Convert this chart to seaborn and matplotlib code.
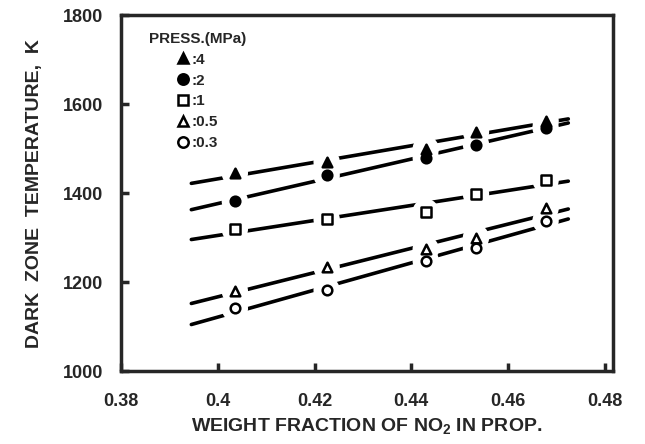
import numpy as np
import pandas as pd
import matplotlib
matplotlib.use('Agg')
import matplotlib.pyplot as plt
import seaborn as sns
from matplotlib.lines import Line2D

# weight fraction of NO2 in the propellant (same five mixes at every pressure)
no2_frac = [0.4035, 0.4225, 0.443, 0.4534, 0.4678]

# dark zone temperature, K, one list per pressure
temp_4 = [1445, 1470, 1499, 1538, 1562]
temp_2 = [1382, 1440, 1480, 1509, 1547]
temp_1 = [1319, 1341, 1358, 1398, 1429]
temp_05 = [1180, 1233, 1274, 1300, 1366]
temp_03 = [1141, 1182, 1248, 1277, 1338]

press_labels = ['4', '2', '1', '0.5', '0.3']
press_markers = ['^', 'o', 's', '^', 'o']
press_filled = [True, True, False, False, False]

fit_lo, fit_hi = 0.3945, 0.4725

x_ticks = [0.38, 0.40, 0.42, 0.44, 0.46, 0.48]
x_ticklabels = ['0.38', '0.4', '0.42', '0.44', '0.46', '0.48']
y_ticks = [1000, 1200, 1400, 1600, 1800]

sns.set_style('ticks')
plt.rcParams['font.family'] = ['Liberation Sans', 'DejaVu Sans']
plt.rcParams['font.weight'] = 'bold'
plt.rcParams['mathtext.fontset'] = 'custom'
plt.rcParams['mathtext.rm'] = 'Liberation Sans:bold'
plt.rcParams['mathtext.it'] = 'Liberation Sans:bold'
plt.rcParams['mathtext.bf'] = 'Liberation Sans:bold'

temps = [temp_4, temp_2, temp_1, temp_05, temp_03]
df = pd.DataFrame({
    'frac': np.tile(no2_frac, len(temps)),
    'temp': np.concatenate(temps),
    'press': np.repeat(press_labels, len(no2_frac)),
})

fig = plt.figure(figsize=(6.45, 4.44), dpi=100)
ax = fig.add_axes([0.188, 0.164, 0.762, 0.802])

# least squares line for each pressure
xs = np.array([fit_lo, fit_hi])
for t in temps:
    k, b = np.polyfit(no2_frac, t, 1)
    sns.lineplot(x=xs, y=k * xs + b, ax=ax, color='black', lw=2.6)
for ln in ax.lines:
    ln.set_zorder(2)

# white halo so the lines break around the points
halo = ax.scatter(df['frac'], df['temp'], marker='o', s=360,
                  facecolor='white', edgecolor='none')
halo.set_zorder(3)

handles = []
for lab, m, filled in zip(press_labels, press_markers, press_filled):
    sub = df[df['press'] == lab]
    fc = 'black' if filled else 'white'
    sns.scatterplot(data=sub, x='frac', y='temp', ax=ax, marker=m, s=48,
                    facecolor=fc, edgecolor='black', linewidth=1.8,
                    legend=False)
    ax.collections[-1].set_zorder(4)
    handles.append(Line2D([], [], ls='none', marker=m, ms=7.5,
                          mfc=fc, mec='black', mew=1.8, label=':' + lab))

leg = ax.legend(handles=handles, title='PRESS.(MPa)', loc='upper left',
                bbox_to_anchor=(0.057, 0.953), frameon=False,
                handlelength=0.7, handletextpad=0.2, labelspacing=0.45,
                borderpad=0, borderaxespad=0, prop={'size': 11, 'weight': 'bold'})
leg.get_title().set_fontsize(11)
leg.get_title().set_fontweight('bold')

ax.set_xlim(0.38, 0.4817)
ax.set_ylim(1000, 1800)
ax.set_xticks(x_ticks)
ax.set_xticklabels(x_ticklabels)
ax.set_yticks(y_ticks)
ax.tick_params(axis='both', direction='in', length=6, width=2.5,
               labelsize=13)
ax.tick_params(axis='x', pad=16)
ax.tick_params(axis='y', pad=13)
for s in ax.spines.values():
    s.set_linewidth(2.5)
    s.set_visible(True)

ax.set_xlabel('WEIGHT FRACTION OF NO$_2$ IN PROP.', fontsize=14,
              fontweight='bold', labelpad=4)
ax.set_ylabel('DARK  ZONE  TEMPERATURE,  K', fontsize=14,
              fontweight='bold', labelpad=14)

fig.savefig('out.png', dpi=100)
